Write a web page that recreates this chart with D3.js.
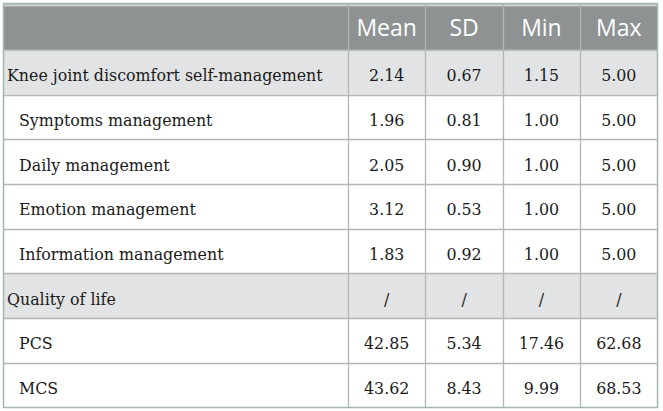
<!DOCTYPE html>
<html>
  <head>
    <meta http-equiv="Content-Type" content="text/html; charset=UTF-8">
    <style type="text/css">
      body { margin: 0; background: #fff; }
    </style>
  </head>
  <body>
    <div id="canvas"></div>
    <script src="https://d3js.org/d3.v7.min.js"></script>
    <script type="text/javascript">
      // table content
      var columns = ['Mean', 'SD', 'Min', 'Max'];
      var rowLabels = [
        'Knee joint discomfort self-management',
        'Symptoms management',
        'Daily management',
        'Emotion management',
        'Information management',
        'Quality of life',
        'PCS',
        'MCS'
      ];
      var rowLevel = [0, 1, 1, 1, 1, 0, 1, 1]; // 0 = group row (shaded), 1 = indented
      var means = ['2.14', '1.96', '2.05', '3.12', '1.83', '/', '42.85', '43.62'];
      var sds   = ['0.67', '0.81', '0.90', '0.53', '0.92', '/', '5.34', '8.43'];
      var mins  = ['1.15', '1.00', '1.00', '1.00', '1.00', '/', '17.46', '9.99'];
      var maxs  = ['5.00', '5.00', '5.00', '5.00', '5.00', '/', '62.68', '68.53'];

      var width = 663, height = 411;
      var tLeft = 3.5, tRight = 657.5, tTop = 3.5, headBottom = 50, tBottom = 407.5, labelEnd = 348;
      var serif = "'DejaVu Serif', serif";
      var sans = "'Open Sans', 'Noto Sans', sans-serif";

      var svg = d3.select('#canvas').append('svg')
        .attr('width', width)
        .attr('height', height);

      var x = d3.scaleBand().domain(columns).range([labelEnd, tRight]);
      var y = d3.scaleBand().domain(d3.range(rowLabels.length)).range([headBottom, tBottom]);

      var cols = [means, sds, mins, maxs];

      // pick body font size so the longest label is ~316px wide like the original
      var probe = svg.append('text')
        .style('font-family', serif)
        .style('font-size', '20px')
        .text(rowLabels[0]);
      var bodySize = 20 * 316 / probe.node().getComputedTextLength();
      probe.remove();

      // header
      var head = svg.append('g');
      head.append('rect')
        .attr('x', tLeft).attr('y', tTop)
        .attr('width', tRight - tLeft).attr('height', headBottom - tTop)
        .style('fill', '#c9cccc');
      head.append('rect')
        .attr('x', tLeft).attr('y', tTop + 3)
        .attr('width', tRight - tLeft).attr('height', headBottom - tTop - 3)
        .style('fill', '#8e9293');
      head.selectAll('text')
        .data(columns)
        .enter().append('text')
        .attr('x', function (d) { return x(d) + x.bandwidth() / 2; })
        .attr('y', 36)
        .attr('text-anchor', 'middle')
        .style('font-family', sans)
        .style('font-size', '23px')
        .style('fill', '#ffffff')
        .text(function (d) { return d; });

      // body rows
      var rows = svg.append('g').selectAll('g')
        .data(rowLabels)
        .enter().append('g');

      rows.append('rect')
        .attr('x', tLeft)
        .attr('y', function (d, i) { return y(i); })
        .attr('width', tRight - tLeft)
        .attr('height', y.bandwidth())
        .style('fill', function (d, i) { return rowLevel[i] === 0 ? '#e2e3e4' : '#ffffff'; });

      rows.append('text')
        .attr('x', function (d, i) { return rowLevel[i] === 0 ? 7 : 19; })
        .attr('y', function (d, i) { return y(i) + y.bandwidth() / 2 + 9; })
        .style('font-family', serif)
        .style('font-size', bodySize + 'px')
        .style('fill', '#1a1a1a')
        .text(function (d) { return d; });

      cols.forEach(function (vals, c) {
        rows.append('text')
          .attr('x', x(columns[c]) + x.bandwidth() / 2)
          .attr('y', function (d, i) { return y(i) + y.bandwidth() / 2 + 9; })
          .attr('text-anchor', 'middle')
          .style('font-family', serif)
          .style('font-size', bodySize + 'px')
          .style('fill', '#1a1a1a')
          .text(function (d, i) { return vals[i]; });
      });

      // grid lines
      var grid = svg.append('g')
        .style('stroke', '#b2b7b5')
        .style('stroke-width', 1.3);
      grid.selectAll('line.h')
        .data(d3.range(1, rowLabels.length))
        .enter().append('line')
        .attr('x1', tLeft).attr('x2', tRight)
        .attr('y1', function (i) { return Math.round(y(i)) + 0.5; })
        .attr('y2', function (i) { return Math.round(y(i)) + 0.5; });
      grid.append('line')
        .attr('x1', tLeft).attr('x2', tRight)
        .attr('y1', headBottom).attr('y2', headBottom)
        .style('stroke', '#a9aead');
      grid.selectAll('line.v')
        .data(columns)
        .enter().append('line')
        .attr('x1', function (d) { return Math.round(x(d)) + 0.5; })
        .attr('x2', function (d) { return Math.round(x(d)) + 0.5; })
        .attr('y1', tTop).attr('y2', tBottom);

      // outer border
      svg.append('rect')
        .attr('x', tLeft).attr('y', tTop)
        .attr('width', tRight - tLeft).attr('height', tBottom - tTop)
        .style('fill', 'none')
        .style('stroke', '#a4b6ae')
        .style('stroke-width', 1.5);
    </script>
  </body>
</html>
